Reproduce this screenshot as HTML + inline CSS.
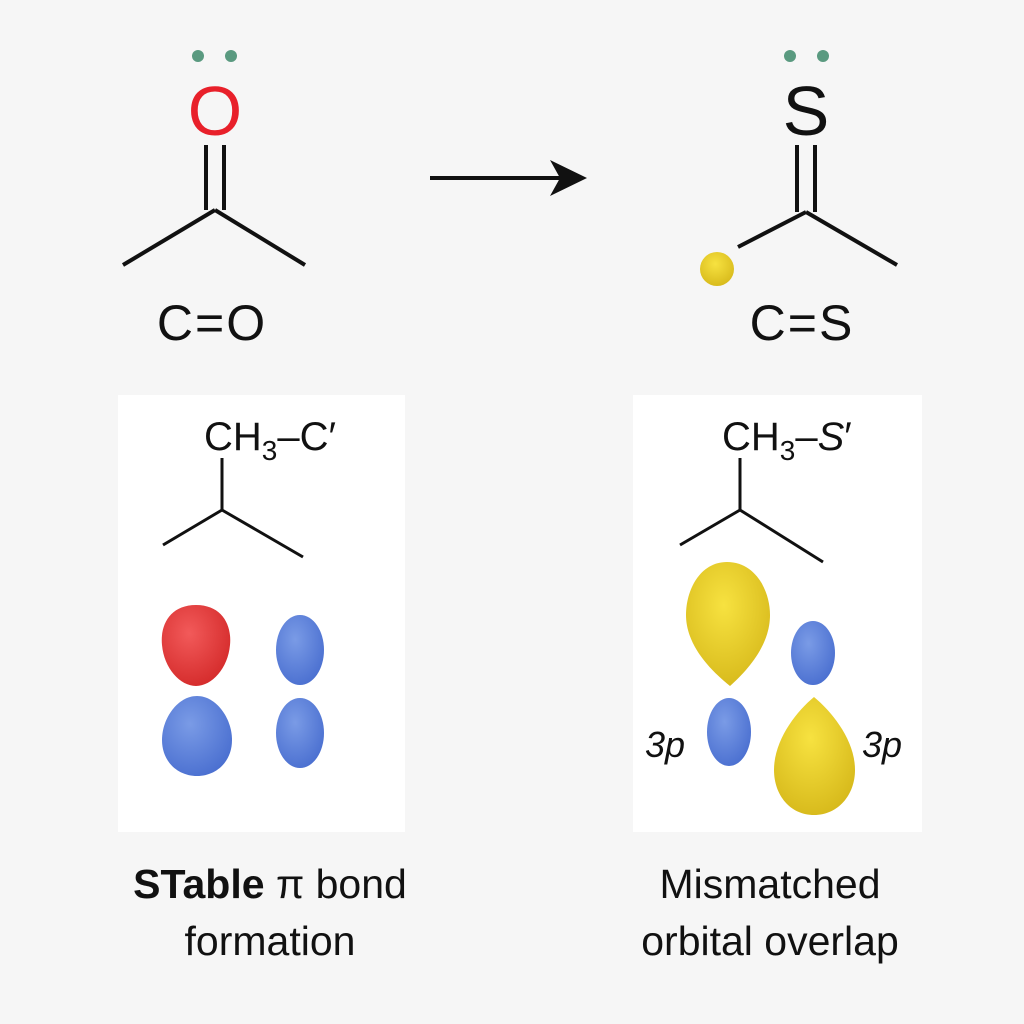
<!DOCTYPE html>
<html><head><meta charset="utf-8"><style>
html,body{margin:0;padding:0;background:#f6f6f6;}
svg{display:block}
text{font-family:"Liberation Sans",sans-serif;}
</style></head><body>
<svg width="1024" height="1024" viewBox="0 0 1024 1024" xmlns="http://www.w3.org/2000/svg">
<defs>
<radialGradient id="red" cx="40%" cy="35%" r="70%"><stop offset="0" stop-color="#f25a5a"/><stop offset="1" stop-color="#d42a2a"/></radialGradient>
<radialGradient id="blue" cx="40%" cy="35%" r="70%"><stop offset="0" stop-color="#7a9be6"/><stop offset="1" stop-color="#4a6fd0"/></radialGradient>
<radialGradient id="yel" cx="45%" cy="35%" r="70%"><stop offset="0" stop-color="#f7e240"/><stop offset="1" stop-color="#d6b81a"/></radialGradient>
</defs>
<rect width="1024" height="1024" fill="#f6f6f6"/>
<rect x="118" y="395" width="287" height="437" fill="#fff"/>
<rect x="633" y="395" width="289" height="437" fill="#fff"/>

<!-- left molecule -->
<circle cx="198" cy="56" r="6" fill="#5a9a80"/><circle cx="231" cy="56" r="6" fill="#5a9a80"/>
<text x="215" y="135" font-size="70" fill="#e8202a" text-anchor="middle">O</text>
<g stroke="#111" stroke-width="4" fill="none">
<line x1="206" y1="145" x2="206" y2="210"/><line x1="224" y1="145" x2="224" y2="210"/>
<line x1="215" y1="210" x2="123" y2="265"/><line x1="215" y1="210" x2="305" y2="265"/>
</g>
<text x="212" y="340" font-size="50" fill="#111" text-anchor="middle" letter-spacing="2">C=O</text>

<!-- arrow -->
<line x1="430" y1="178" x2="565" y2="178" stroke="#111" stroke-width="4"/>
<polygon points="587,178 550,160 560,178 550,196" fill="#111"/>

<!-- right molecule -->
<circle cx="790" cy="56" r="6" fill="#5a9a80"/><circle cx="823" cy="56" r="6" fill="#5a9a80"/>
<text x="806" y="135" font-size="70" fill="#111" text-anchor="middle">S</text>
<g stroke="#111" stroke-width="4" fill="none">
<line x1="797" y1="145" x2="797" y2="212"/><line x1="815" y1="145" x2="815" y2="212"/>
<line x1="806" y1="212" x2="738" y2="247"/><line x1="806" y1="212" x2="897" y2="265"/>
</g>
<circle cx="717" cy="269" r="17" fill="url(#yel)"/>
<text x="802" y="340" font-size="50" fill="#111" text-anchor="middle" letter-spacing="2">C=S</text>

<!-- left panel -->
<text x="204" y="450" font-size="40" fill="#111">CH<tspan font-size="28" dy="10">3</tspan><tspan dy="-10">–C′</tspan></text>
<g stroke="#111" stroke-width="3" fill="none">
<line x1="222" y1="458" x2="222" y2="510"/><line x1="222" y1="510" x2="163" y2="545"/><line x1="222" y1="510" x2="303" y2="557"/>
</g>
<path d="M196,605 C222,605 232,625 230,645 C228,668 212,686 196,686 C180,686 164,668 162,645 C160,625 170,605 196,605Z" fill="url(#red)"/>
<path d="M197,696 C216,696 232,718 232,740 C232,762 216,776 197,776 C178,776 162,762 162,740 C162,718 178,696 197,696Z" fill="url(#blue)"/>
<ellipse cx="300" cy="650" rx="24" ry="35" fill="url(#blue)"/>
<ellipse cx="300" cy="733" rx="24" ry="35" fill="url(#blue)"/>

<!-- right panel -->
<text x="722" y="450" font-size="40" fill="#111">CH<tspan font-size="28" dy="10">3</tspan><tspan dy="-10">–<tspan font-style="italic">S</tspan>′</tspan></text>
<g stroke="#111" stroke-width="3" fill="none">
<line x1="740" y1="458" x2="740" y2="510"/><line x1="740" y1="510" x2="680" y2="545"/><line x1="740" y1="510" x2="823" y2="562"/>
</g>
<path d="M727,562 C755,562 770,590 770,615 C770,645 748,670 730,686 C710,670 686,645 686,615 C686,590 700,562 727,562Z" fill="url(#yel)"/>
<ellipse cx="813" cy="653" rx="22" ry="32" fill="url(#blue)"/>
<ellipse cx="729" cy="732" rx="22" ry="34" fill="url(#blue)"/>
<path d="M814,697 C832,712 855,740 855,770 C855,795 838,815 814,815 C790,815 774,795 774,770 C774,740 796,712 814,697Z" fill="url(#yel)"/>
<text x="645" y="757" font-size="36" font-style="italic" fill="#111">3p</text>
<text x="862" y="757" font-size="36" font-style="italic" fill="#111">3p</text>

<!-- captions -->
<text x="270" y="898" font-size="41" fill="#111" text-anchor="middle"><tspan font-weight="bold">STable</tspan> π bond</text>
<text x="270" y="955" font-size="41" fill="#111" text-anchor="middle">formation</text>
<text x="770" y="898" font-size="41" fill="#111" text-anchor="middle">Mismatched</text>
<text x="770" y="955" font-size="41" fill="#111" text-anchor="middle">orbital overlap</text>
</svg>
</body></html>
